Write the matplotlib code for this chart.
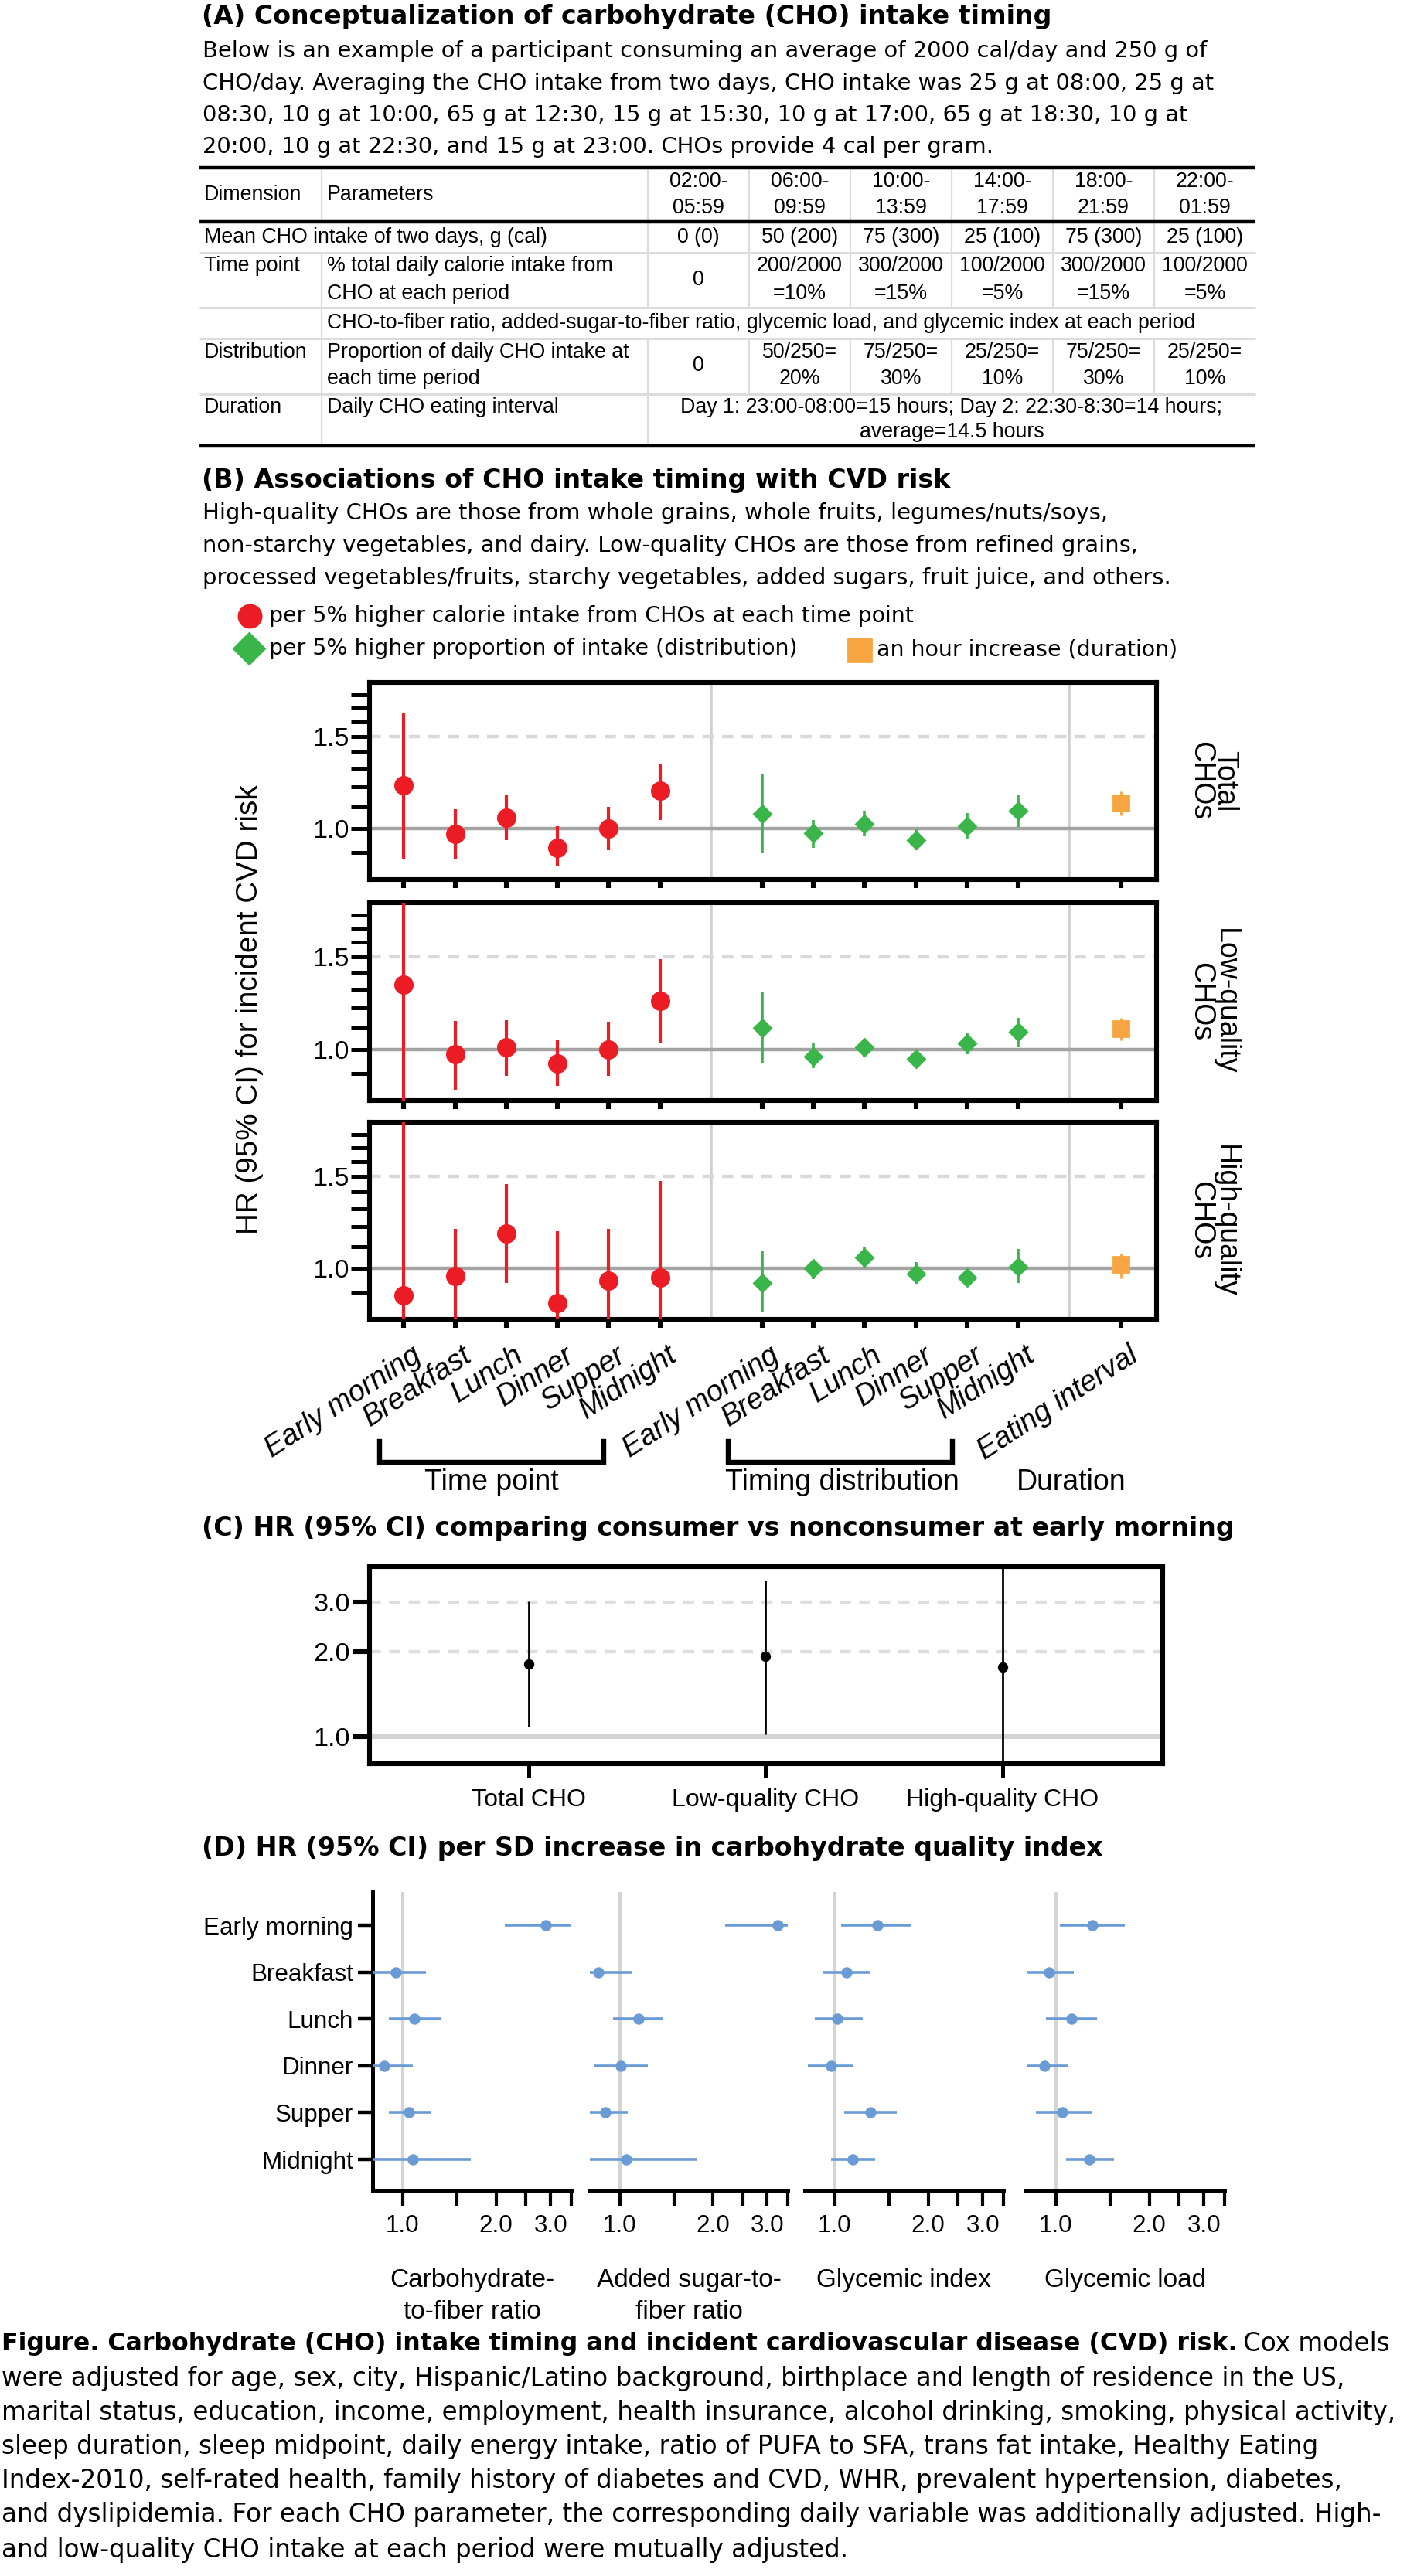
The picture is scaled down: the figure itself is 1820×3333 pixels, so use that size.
import numpy as np
import matplotlib
matplotlib.use('Agg')
import matplotlib.pyplot as plt
from matplotlib.lines import Line2D
from matplotlib.ticker import NullFormatter
from matplotlib.transforms import ScaledTranslation

plt.rcParams['font.family'] = ['Liberation Sans', 'DejaVu Sans']

# ---------------- data ----------------
# (A) table
periods = ['02:00-\n05:59', '06:00-\n09:59', '10:00-\n13:59', '14:00-\n17:59', '18:00-\n21:59', '22:00-\n01:59']
mean_intake = ['0 (0)', '50 (200)', '75 (300)', '25 (100)', '75 (300)', '25 (100)']
pct_calorie = ['0', '200/2000\n=10%', '300/2000\n=15%', '100/2000\n=5%', '300/2000\n=15%', '100/2000\n=5%']
proportion = ['0', '50/250=\n20%', '75/250=\n30%', '25/250=\n10%', '75/250=\n30%', '25/250=\n10%']

# (B) HR and 95% CI, time point / distribution / duration
meal_labels = ['Early morning', 'Breakfast', 'Lunch', 'Dinner', 'Supper', 'Midnight']
dur_label = 'Eating interval'
panel_names = [('Total', 'CHOs'), ('Low-quality', 'CHOs'), ('High-quality', 'CHOs')]

tp_total = [1.21, 0.976, 1.05, 0.92, 1.0, 1.18]
tp_total_lo = [0.875, 0.875, 0.951, 0.85, 0.911, 1.04]
tp_total_hi = [1.66, 1.089, 1.159, 1.01, 1.099, 1.328]
dist_total = [1.068, 0.979, 1.021, 0.95, 1.01, 1.081]
dist_total_lo = [0.899, 0.92, 0.969, 0.911, 0.959, 1.008]
dist_total_hi = [1.269, 1.04, 1.081, 1.0, 1.07, 1.159]
dur_total = [1.119, 1.059, 1.177]

tp_low = [1.33, 0.981, 1.009, 0.94, 1.0, 1.238]
tp_low_lo = [0.78, 0.839, 0.89, 0.852, 0.89, 1.03]
tp_low_hi = [1.95, 1.134, 1.138, 1.044, 1.128, 1.485]
dist_low = [1.099, 0.971, 1.009, 0.959, 1.026, 1.081]
dist_low_lo = [0.94, 0.922, 0.966, 0.922, 0.981, 1.009]
dist_low_hi = [1.287, 1.03, 1.049, 0.99, 1.078, 1.149]
dur_low = [1.095, 1.04, 1.149]

tp_high = [0.888, 0.969, 1.167, 0.858, 0.949, 0.96]
tp_high_lo = [0.78, 0.78, 0.938, 0.78, 0.78, 0.78]
tp_high_hi = [1.95, 1.189, 1.446, 1.178, 1.189, 1.468]
dist_high = [0.938, 1.0, 1.049, 0.978, 0.96, 1.008]
dist_high_lo = [0.828, 0.954, 1.008, 0.934, 0.926, 0.938]
dist_high_hi = [1.079, 1.037, 1.098, 1.029, 0.997, 1.088]
dur_high = [1.018, 0.958, 1.067]

# (C) consumer vs nonconsumer
c_labels = ['Total CHO', 'Low-quality CHO', 'High-quality CHO']
c_hr = [1.81, 1.92, 1.76]
c_lo = [1.08, 1.02, 0.7]
c_hi = [3.01, 3.58, 4.6]

# (D) per SD increase in quality index
d_titles = ['Carbohydrate-\nto-fiber ratio', 'Added sugar-to-\nfiber ratio', 'Glycemic index', 'Glycemic load']
cf_hr = [2.89, 0.95, 1.09, 0.87, 1.05, 1.08]
cf_lo = [2.13, 0.79, 0.90, 0.79, 0.90, 0.79]
cf_hi = [3.6, 1.19, 1.33, 1.08, 1.24, 1.66]
as_hr = [3.25, 0.85, 1.15, 1.01, 0.90, 1.05]
as_lo = [2.20, 0.79, 0.95, 0.83, 0.79, 0.79]
as_hi = [3.6, 1.10, 1.38, 1.23, 1.06, 1.78]
gi_hr = [1.37, 1.09, 1.02, 0.97, 1.30, 1.14]
gi_lo = [1.05, 0.92, 0.86, 0.82, 1.07, 0.97]
gi_hi = [1.77, 1.30, 1.23, 1.14, 1.58, 1.35]
gl_hr = [1.31, 0.95, 1.12, 0.92, 1.05, 1.28]
gl_lo = [1.03, 0.81, 0.93, 0.81, 0.86, 1.08]
gl_hi = [1.67, 1.14, 1.36, 1.10, 1.30, 1.54]

# text blocks
title_a = '(A) Conceptualization of carbohydrate (CHO) intake timing'
title_b = '(B) Associations of CHO intake timing with CVD risk'
title_c = '(C) HR (95% CI) comparing consumer vs nonconsumer at early morning'
title_d = '(D) HR (95% CI) per SD increase in carbohydrate quality index'
a_lines = ['Below is an example of a participant consuming an average of 2000 cal/day and 250 g of',
           'CHO/day. Averaging the CHO intake from two days, CHO intake was 25 g at 08:00, 25 g at',
           '08:30, 10 g at 10:00, 65 g at 12:30, 15 g at 15:30, 10 g at 17:00, 65 g at 18:30, 10 g at',
           '20:00, 10 g at 22:30, and 15 g at 23:00. CHOs provide 4 cal per gram.']
b_lines = ['High-quality CHOs are those from whole grains, whole fruits, legumes/nuts/soys,',
           'non-starchy vegetables, and dairy. Low-quality CHOs are those from refined grains,',
           'processed vegetables/fruits, starchy vegetables, added sugars, fruit juice, and others.']
leg_labels = ['per 5% higher calorie intake from CHOs at each time point',
              'per 5% higher proportion of intake (distribution)',
              'an hour increase (duration)']
cap_bold = 'Figure. Carbohydrate (CHO) intake timing and incident cardiovascular disease (CVD) risk.'
cap_rest = 'Cox models'
cap_lines = ['were adjusted for age, sex, city, Hispanic/Latino background, birthplace and length of residence in the US,',
             'marital status, education, income, employment, health insurance, alcohol drinking, smoking, physical activity,',
             'sleep duration, sleep midpoint, daily energy intake, ratio of PUFA to SFA, trans fat intake, Healthy Eating',
             'Index-2010, self-rated health, family history of diabetes and CVD, WHR, prevalent hypertension, diabetes,',
             'and dyslipidemia. For each CHO parameter, the corresponding daily variable was additionally adjusted. High-',
             'and low-quality CHO intake at each period were mutually adjusted.']
row3_text = 'CHO-to-fiber ratio, added-sugar-to-fiber ratio, glycemic load, and glycemic index at each period'

RED = '#ec1c24'
GREEN = '#39b54a'
ORANGE = '#f7a541'
BLUE = '#6a9bd5'
WIDE = ['DejaVu Sans']

W, H, DPI = 1820, 3333, 200
fig = plt.figure(figsize=(W / DPI, H / DPI), dpi=DPI)
R = fig.canvas.get_renderer()


def fx(x):
    return x / W


def fy(y):
    return 1 - y / H


def rect(l, t, r, b):
    return [l / W, 1 - b / H, (r - l) / W, (b - t) / H]


def width_of(s, size, **kw):
    t = fig.text(0, 0, s, fontsize=size, **kw)
    w = t.get_window_extent(renderer=R).width
    t.remove()
    return w


def fit(pairs, base=10, **kw):
    # font size that makes each string about as wide (px) as in the reference
    return float(np.mean([base * target / width_of(s, base, **kw) for s, target in pairs]))


def txt(x, y, s, size, gap=None, **kw):
    lines = s.split('\n')
    n = len(lines)
    if gap is None:
        gap = size * 3.9
    kw.setdefault('va', 'center')
    out = []
    for i, line in enumerate(lines):
        out.append(fig.text(fx(x), fy(y + (i - (n - 1) / 2) * gap), line, fontsize=size, **kw))
    return out


def hline(x0, x1, y, color, lw):
    fig.add_artist(Line2D([fx(x0), fx(x1)], [fy(y), fy(y)], transform=fig.transFigure,
                          color=color, lw=lw, solid_capstyle='butt'))


def vline(x, y0, y1, color, lw):
    fig.add_artist(Line2D([fx(x), fx(x)], [fy(y0), fy(y1)], transform=fig.transFigure,
                          color=color, lw=lw, solid_capstyle='butt'))


TITLE = fit([(title_a, 1103), (title_b, 967), (title_c, 1335), (title_d, 1165)], family=WIDE, weight='bold')
BODY = fit([(a_lines[0], 1292), (b_lines[2], 1257)], family=WIDE)
LEG = fit([(leg_labels[0], 832), (leg_labels[1], 683)], family=WIDE)
CAP = fit([(cap_lines[0], 1753), (cap_lines[1], 1797)], family=WIDE)
CAP_B = fit([(cap_bold, 1800 - 2 - 8 - width_of(cap_rest, CAP, family=WIDE))], family=WIDE, weight='bold')
TS = fit([(row3_text, 1118), ('Mean CHO intake of two days, g (cal)', 447)])

# ---------------- (A) ----------------
txt(261, 22, title_a, TITLE, weight='bold', family=WIDE)
for i, line in enumerate(a_lines):
    txt(262, 66 + i * 41.5, line, BODY, family=WIDE)

# table
tx = [258, 416, 838, 969, 1100, 1231, 1362, 1493, 1624]
ty = [217, 287, 327, 398, 438, 510, 577]
GRID = '#dcdcdc'
col_c = [(tx[i + 2] + tx[i + 3]) / 2 for i in range(6)]
for yy in ty[2:6]:
    hline(tx[0], tx[-1], yy, GRID, 1.1)
vline(tx[1], ty[0], ty[1], GRID, 0.8)
vline(tx[1], ty[2], ty[6], GRID, 0.8)
vline(tx[2], ty[0], ty[3], GRID, 0.8)
vline(tx[2], ty[4], ty[6], GRID, 0.8)
for xx in tx[3:8]:
    vline(xx, ty[0], ty[3], GRID, 0.8)
    vline(xx, ty[4], ty[5], GRID, 0.8)
hline(tx[0], tx[-1], ty[0], 'black', 1.6)
hline(tx[0], tx[-1], ty[1], 'black', 1.6)
hline(tx[0], tx[-1], ty[6], 'black', 1.6)

txt(264, 252, 'Dimension', TS)
txt(423, 252, 'Parameters', TS)
for c, s in zip(col_c, periods):
    txt(c, 252, s, TS, gap=34, ha='center')
txt(264, 307, 'Mean CHO intake of two days, g (cal)', TS)
for c, s in zip(col_c, mean_intake):
    txt(c, 307, s, TS, ha='center')
txt(264, 344, 'Time point', TS)
txt(423, 362, '% total daily calorie intake from\nCHO at each period', TS, gap=36)
for c, s in zip(col_c, pct_calorie):
    txt(c, 362, s, TS, gap=36, ha='center')
txt(423, 418, row3_text, TS)
txt(264, 456, 'Distribution', TS)
txt(423, 473, 'Proportion of daily CHO intake at\neach time period', TS, gap=34)
for c, s in zip(col_c, proportion):
    txt(c, 473, s, TS, gap=34, ha='center')
txt(264, 527, 'Duration', TS)
txt(423, 527, 'Daily CHO eating interval', TS)
txt((tx[2] + tx[-1]) / 2, 543, 'Day 1: 23:00-08:00=15 hours; Day 2: 22:30-8:30=14 hours;\naverage=14.5 hours',
    TS, gap=33, ha='center')

# ---------------- (B) ----------------
txt(261, 621, title_b, TITLE, weight='bold', family=WIDE)
for i, line in enumerate(b_lines):
    txt(262, 664 + i * 42, line, BODY, family=WIDE)

# legend
fig.add_artist(Line2D([fx(323)], [fy(797)], transform=fig.transFigure, marker='o', ms=10.5,
                      color=RED, ls='none'))
txt(348, 797, leg_labels[0], LEG, family=WIDE)
fig.add_artist(Line2D([fx(322)], [fy(839)], transform=fig.transFigure, marker='D', ms=10.2,
                      color=GREEN, ls='none'))
txt(348, 839, leg_labels[1], LEG, family=WIDE)
fig.add_artist(Line2D([fx(1112)], [fy(841)], transform=fig.transFigure, marker='s', ms=10.5,
                      color=ORANGE, ls='none'))
txt(1134, 841, leg_labels[2], LEG, family=WIDE)

tp_x = np.arange(6)
dist_x = np.arange(7, 13)
dur_x = [14]
b_data = [
    (tp_total, tp_total_lo, tp_total_hi, dist_total, dist_total_lo, dist_total_hi, dur_total),
    (tp_low, tp_low_lo, tp_low_hi, dist_low, dist_low_lo, dist_low_hi, dur_low),
    (tp_high, tp_high_lo, tp_high_hi, dist_high, dist_high_lo, dist_high_hi, dur_high),
]
tops = [883, 1168, 1452]
bots = [1138, 1424, 1707]
FRAME = 2.2
for k in range(3):
    ax = fig.add_axes(rect(478, tops[k], 1496, bots[k]))
    tp, tpl, tph, ds, dsl, dsh, du = b_data[k]
    ax.axvline(6, color='#d0d0d0', lw=1.3, zorder=0)
    ax.axvline(13, color='#d0d0d0', lw=1.3, zorder=0)
    ax.axhline(1.0, color='#a3a3a3', lw=1.6, zorder=1)
    ax.axhline(1.5, color='#d9d9d9', lw=1.6, ls=(0, (3.3, 2.4)), zorder=1)
    tp = np.array(tp)
    ds = np.array(ds)
    ax.errorbar(tp_x, tp, yerr=[tp - np.array(tpl), np.array(tph) - tp], fmt='o', ms=8,
                color=RED, elinewidth=1.5, capsize=0, zorder=3)
    ax.errorbar(dist_x, ds, yerr=[ds - np.array(dsl), np.array(dsh) - ds], fmt='D', ms=5.6,
                color=GREEN, elinewidth=1.3, capsize=0, zorder=3)
    ax.errorbar(dur_x, [du[0]], yerr=[[du[0] - du[1]], [du[2] - du[0]]], fmt='s', ms=7.2,
                color=ORANGE, elinewidth=1.0, capsize=0, zorder=3)
    ax.set_yscale('log')
    ax.set_ylim(0.8, 1.9)
    ax.set_xlim(-0.67, 14.7)
    ax.set_yticks([1.0, 1.5])
    ax.set_yticklabels(['1.0', '1.5'])
    ax.set_yticks([0.9, 1.1, 1.2, 1.3, 1.4, 1.6, 1.7, 1.8], minor=True)
    ax.yaxis.set_minor_formatter(NullFormatter())
    ax.tick_params(axis='y', which='both', length=8.5, width=1.8, pad=1, labelsize=12.3)
    ax.set_xticks(list(tp_x) + list(dist_x) + dur_x)
    ax.tick_params(axis='x', length=3.8, width=2.2, pad=5)
    for sp in ax.spines.values():
        sp.set_linewidth(FRAME)
    if k < 2:
        ax.set_xticklabels([])
    else:
        ax.set_xticklabels(meal_labels + meal_labels + [dur_label], rotation=33, ha='right',
                           va='top', rotation_mode='anchor', style='italic', fontsize=13.6)
        for lbl in ax.get_xticklabels():
            lbl.set_transform(lbl.get_transform() + ScaledTranslation(9 / DPI, -4 / DPI, fig.dpi_scale_trans))
    ax.text(1.087, 0.5, panel_names[k][0], transform=ax.transAxes, rotation=-90,
            ha='center', va='center', fontsize=13.5)
    ax.text(1.056, 0.5, panel_names[k][1], transform=ax.transAxes, rotation=-90,
            ha='center', va='center', fontsize=13.5)

txt(323, 1306, 'HR (95% CI) for incident CVD risk', 13.9, rotation=90, ha='center')

# group brackets
for x0, x1 in [(491, 781), (942, 1232)]:
    fig.add_artist(Line2D([fx(x0), fx(x0), fx(x1), fx(x1)], [fy(1865), fy(1892), fy(1892), fy(1865)],
                          transform=fig.transFigure, color='black', lw=2.3, solid_joinstyle='miter'))
txt(636, 1918, 'Time point', 13.5, ha='center')
txt(1089, 1918, 'Timing distribution', 13.5, ha='center')
txt(1386, 1918, 'Duration', 13.5, ha='center')

# ---------------- (C) ----------------
txt(261, 1978, title_c, TITLE, weight='bold', family=WIDE)
axc = fig.add_axes(rect(478, 2027, 1504, 2282))
axc.axhline(1.0, color='#d3d3d3', lw=2.2, zorder=0)
axc.axhline(2.0, color='#dedede', lw=1.6, ls=(0, (3.3, 2.4)), zorder=0)
axc.axhline(3.0, color='#dedede', lw=1.6, ls=(0, (3.3, 2.4)), zorder=0)
c_x = np.arange(3)
chr_ = np.array(c_hr)
axc.errorbar(c_x, chr_, yerr=[chr_ - np.array(c_lo), np.array(c_hi) - chr_], fmt='o', ms=3.8,
             color='black', elinewidth=1.0, capsize=0, zorder=3)
axc.set_yscale('log')
axc.set_ylim(0.8, 4.0)
axc.set_xlim(-0.67, 2.675)
axc.set_yticks([1.0, 2.0, 3.0])
axc.set_yticklabels(['1.0', '2.0', '3.0'])
axc.set_yticks([], minor=True)
axc.set_xticks(c_x)
axc.set_xticklabels(c_labels)
axc.tick_params(axis='y', length=8, width=2.2, pad=1, labelsize=12.3)
axc.tick_params(axis='x', length=6.5, width=1.8, pad=5, labelsize=11.5)
for sp in axc.spines.values():
    sp.set_linewidth(FRAME)

# ---------------- (D) ----------------
txt(261, 2392, title_d, TITLE, weight='bold', family=WIDE)
d_sets = [(cf_hr, cf_lo, cf_hi), (as_hr, as_lo, as_hi), (gi_hr, gi_lo, gi_hi), (gl_hr, gl_lo, gl_hi)]
d_left = [482, 763, 1041, 1327]
d_right = [739, 1019, 1298, 1584]
rows = np.arange(6)
for j in range(4):
    ax = fig.add_axes(rect(d_left[j], 2448, d_right[j], 2834))
    hr, lo, hi = (np.array(v) for v in d_sets[j])
    ax.axvline(1.0, color='#d4d4d4', lw=1.5, zorder=0)
    ax.errorbar(hr, rows, xerr=[hr - lo, hi - hr], fmt='o', ms=4.2, color=BLUE,
                elinewidth=1.3, capsize=0, zorder=3)
    ax.set_xscale('log')
    ax.set_xlim(0.8, 3.5)
    ax.set_ylim(5.66, -0.71)
    ax.set_xticks([1.0, 1.5, 2.0, 2.5, 3.0, 3.5])
    ax.set_xticklabels(['1.0', '', '2.0', '', '3.0', ''])
    ax.set_xticks([], minor=True)
    ax.tick_params(axis='x', length=7.2, width=1.5, pad=4, labelsize=11.3)
    ax.spines['top'].set_visible(False)
    ax.spines['right'].set_visible(False)
    ax.spines['bottom'].set_linewidth(1.8)
    if j == 0:
        ax.spines['left'].set_linewidth(1.8)
        ax.set_yticks(rows)
        ax.set_yticklabels(meal_labels)
        ax.tick_params(axis='y', length=7, width=1.6, pad=2, labelsize=11.3)
    else:
        ax.spines['left'].set_visible(False)
        ax.set_yticks([])
    txt((d_left[j] + d_right[j]) / 2, 2950 if '\n' not in d_titles[j] else 2971,
        d_titles[j], 12.0, gap=42, ha='center')

# ---------------- caption ----------------
cap_y = [3032, 3077, 3121, 3165, 3210, 3254, 3299]
bold = txt(2, cap_y[0], cap_bold, CAP_B, weight='bold', family=WIDE)[0]
bb = bold.get_window_extent(renderer=R)
txt(bb.x1 + 8, cap_y[0], cap_rest, CAP, family=WIDE)
for y, line in zip(cap_y[1:], cap_lines):
    txt(2, y, line, CAP, family=WIDE)

fig.savefig('out.png', dpi=DPI)
